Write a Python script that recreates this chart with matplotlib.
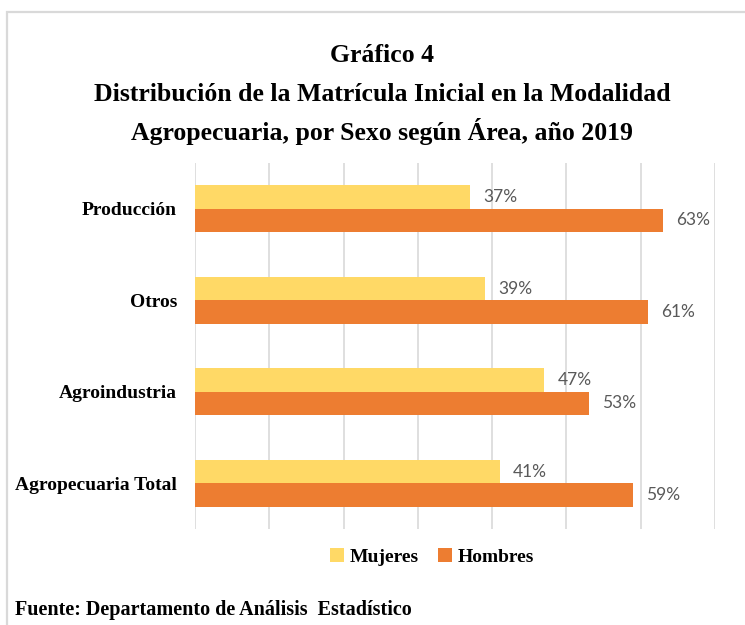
import matplotlib
matplotlib.use("Agg")
import matplotlib.pyplot as plt
import numpy as np
from matplotlib.patches import Rectangle

plt.rcParams['font.family'] = 'Liberation Serif'

# data
areas = ["Producción", "Otros", "Agroindustria", "Agropecuaria Total"]
mujeres = [37, 39, 47, 41]
hombres = [63, 61, 53, 59]

title_lines = ["Gráfico 4",
               "Distribución de la Matrícula Inicial en la Modalidad",
               "Agropecuaria, por Sexo según Área, año 2019"]
fuente = "Fuente: Departamento de Análisis  Estadístico"

W, H = 745, 625
fig = plt.figure(figsize=(W / 100, H / 100), dpi=100)

# light border round the chart area (clipped at right/bottom like the original)
fig.patches.append(Rectangle((7 / W, -0.2), 1.2, 1.2 - 12 / H + 0.0,
                             transform=fig.transFigure, fill=False,
                             edgecolor='#D9D9D9', linewidth=1.6))

ax = fig.add_axes([195 / W, 1 - 529 / H, (715 - 195) / W, (529 - 163) / H])

y = np.arange(len(areas))
h = 0.255
b1 = ax.barh(y - h / 2, mujeres, height=h, color='#FFD966', label='Mujeres')
b2 = ax.barh(y + h / 2, hombres, height=h, color='#ED7D31', label='Hombres')

for bars, vals in [(b1, mujeres), (b2, hombres)]:
    ax.bar_label(bars, labels=[f"{v}%" for v in vals], padding=9.5,
                 fontsize=12.5, color='#595959', family='Lato')

ax.set_xlim(0, 70)
ax.set_ylim(3.5, -0.5)
ax.set_xticks(np.arange(0, 71, 10))
ax.xaxis.grid(True, color='#D9D9D9', linewidth=1.2)
ax.set_axisbelow(True)
ax.tick_params(axis='x', length=0, labelbottom=False)
ax.set_yticks(y)
ax.set_yticklabels(areas, fontsize=14, fontweight='bold')
ax.tick_params(axis='y', length=0, pad=13)
for s in ax.spines.values():
    s.set_visible(False)

for i, line in enumerate(title_lines):
    fig.text(382 / W, 1 - (62 + 39 * i) / H, line, ha='center', va='baseline',
             fontsize=18.5, fontweight='bold')

fig.legend(handles=[b1, b2], loc='center', bbox_to_anchor=(432 / W, 1 - 557 / H),
           ncol=2, frameon=False, prop={'size': 14, 'weight': 'bold'},
           handlelength=0.7, handleheight=0.7, handletextpad=0.3,
           columnspacing=1.0)

fig.text(15 / W, 1 - 615 / H, fuente, ha='left', va='baseline',
         fontsize=14.5, fontweight='bold')

fig.savefig("out.png", dpi=100)
